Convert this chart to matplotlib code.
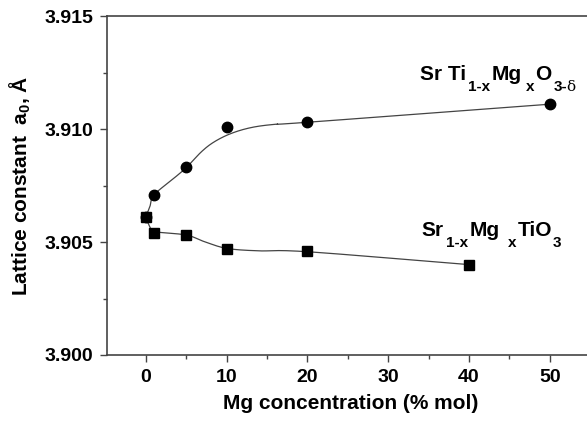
# Lattice constant of Mg-doped SrTiO3 vs Mg concentration.

import numpy as np
import matplotlib
matplotlib.use('Agg')
import matplotlib.pyplot as plt
from matplotlib.ticker import MultipleLocator
from matplotlib.transforms import offset_copy

plt.rcParams['font.family'] = ['Liberation Sans', 'DejaVu Sans']
plt.rcParams['font.weight'] = 'bold'
plt.rcParams['mathtext.fontset'] = 'custom'
plt.rcParams['mathtext.rm'] = 'Liberation Sans:bold'

# Data.
# Sr Ti(1-x) Mg(x) O(3-d)  (circles)
ti_x = [0, 1, 5, 10, 20, 50]
ti_a = [3.9061, 3.9071, 3.9083, 3.9101, 3.9103, 3.9111]
# guide line drawn through the circles
ti_fit_x = [0, 0.5, 1.0, 3.2, 5.0, 6.9, 8.5, 10.6, 13.1, 16.0, 20.0, 50.0]
ti_fit_a = [3.9061, 3.90656, 3.90708, 3.90774, 3.90829, 3.90900, 3.90944,
            3.90981, 3.91007, 3.91021, 3.91030, 3.91110]

# Sr(1-x) Mg(x) TiO3  (squares)
sr_x = [0, 1, 5, 10, 20, 40]
sr_a = [3.9061, 3.9054, 3.9053, 3.9047, 3.9046, 3.9040]
sr_fit_x = [0, 0.5, 1.1, 5.0, 7.3, 10.0, 13.9, 20.0, 40.0]
sr_fit_a = [3.9061, 3.90568, 3.90546, 3.90531, 3.90501, 3.90472, 3.90461,
            3.90457, 3.90400]

# formula labels: (text, kind, gap before in px)
ti_label = [('Sr Ti', 'main', 0), ('1-x', 'sub', 2), ('Mg', 'main', 2),
            ('x', 'sub', 4), ('O', 'main', 1), ('3-', 'sub', 2), ('δ', 'greek', -1)]
sr_label = [('Sr', 'main', 0), ('1-x', 'sub', 2), ('Mg', 'main', 2),
            ('x', 'sub', 8), ('TiO', 'main', 1), ('3', 'sub', 1)]


def smooth(xs, ys, n=20):
    # Catmull-Rom curve through the read points, just for drawing
    x = np.asarray(xs, float)
    y = np.asarray(ys, float)
    px = np.concatenate([[2 * x[0] - x[1]], x, [2 * x[-1] - x[-2]]])
    py = np.concatenate([[2 * y[0] - y[1]], y, [2 * y[-1] - y[-2]]])
    t = np.linspace(0, 1, n, endpoint=False)
    ox, oy = [], []
    for i in range(1, len(px) - 2):
        for p, o in ((px, ox), (py, oy)):
            p0, p1, p2, p3 = p[i - 1], p[i], p[i + 1], p[i + 2]
            o.extend(0.5 * (2 * p1 + (-p0 + p2) * t
                            + (2 * p0 - 5 * p1 + 4 * p2 - p3) * t ** 2
                            + (-p0 + 3 * p1 - 3 * p2 + p3) * t ** 3))
    ox.append(x[-1])
    oy.append(y[-1])
    return ox, oy


def formula(ax, x, y, pieces, drop=11):
    # write a chemical formula piece by piece, with low subscripts
    fig = ax.figure
    renderer = fig.canvas.get_renderer()
    dx = 0
    for txt, kind, gap in pieces:
        dx += gap
        if kind == 'main':
            kw = dict(fontsize=15, fontweight='bold')
            dy = 0
        elif kind == 'sub':
            kw = dict(fontsize=11, fontweight='bold')
            dy = -drop
        else:
            kw = dict(fontsize=11, fontweight='normal', family='DejaVu Serif')
            dy = -drop
        tr = offset_copy(ax.transData, fig=fig, x=dx, y=dy, units='dots')
        t = ax.text(x, y, txt, transform=tr, va='baseline', **kw)
        dx += t.get_window_extent(renderer).width


fig = plt.figure(figsize=(5.87, 4.21), dpi=100)
ax = fig.add_axes([0.1823, 0.1568, 0.830, 0.805])

line_col = '#444444'
ax.plot(*smooth(sr_fit_x, sr_fit_a), color=line_col, lw=0.9, zorder=2)
ax.plot(*smooth(ti_fit_x, ti_fit_a), color=line_col, lw=0.9, zorder=2)
ax.plot(sr_x, sr_a, 's', color='black', ms=6.5, zorder=3)
ax.plot(ti_x, ti_a, 'o', color='black', ms=7.5, zorder=4)

ax.set_xlim(-4.8, 55.5)
ax.set_ylim(3.900, 3.915)
ax.xaxis.set_major_locator(MultipleLocator(10))
ax.xaxis.set_minor_locator(MultipleLocator(5))
ax.yaxis.set_major_locator(MultipleLocator(0.005))
ax.yaxis.set_minor_locator(MultipleLocator(0.0025))
ax.yaxis.set_major_formatter(plt.FormatStrFormatter('%.3f'))

ax.tick_params(which='both', direction='out', color=line_col, labelsize=14, pad=5)
ax.tick_params(which='major', length=5, width=1)
ax.tick_params(which='minor', length=3, width=1)
for s in ax.spines.values():
    s.set_color(line_col)
    s.set_linewidth(1.2)

ax.set_xlabel('Mg concentration (% mol)', fontsize=15, fontweight='bold', labelpad=6)
ax.set_ylabel('Lattice constant  a$_0$, Å', fontsize=15, fontweight='bold', labelpad=8)

formula(ax, 33.9, 3.91217, ti_label, drop=11)
formula(ax, 34.16, 3.90527, sr_label, drop=11)

fig.savefig('out.png', dpi=100)
